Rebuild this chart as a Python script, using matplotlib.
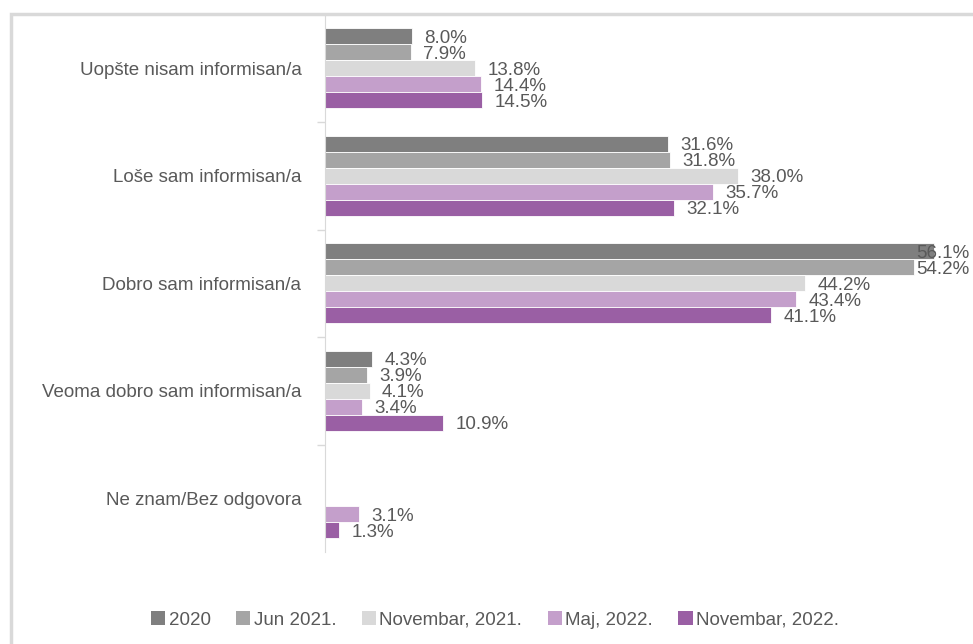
import matplotlib.pyplot as plt
from matplotlib.patches import Rectangle
import numpy as np

categories = ["Uopšte nisam informisan/a", "Loše sam informisan/a",
              "Dobro sam informisan/a", "Veoma dobro sam informisan/a",
              "Ne znam/Bez odgovora"]
series_names = ["2020", "Jun 2021.", "Novembar, 2021.", "Maj, 2022.", "Novembar, 2022."]
v2020 = [8.0, 31.6, 56.1, 4.3, None]
vjun21 = [7.9, 31.8, 54.2, 3.9, None]
vnov21 = [13.8, 38.0, 44.2, 4.1, None]
vmaj22 = [14.4, 35.7, 43.4, 3.4, 3.1]
vnov22 = [14.5, 32.1, 41.1, 10.9, 1.3]
colors = ["#7f7f7f", "#a5a5a5", "#d9d9d9", "#c49fcb", "#9a5fa4"]

plt.rcParams['font.family'] = ['Liberation Sans', 'DejaVu Sans']
W, H = 973, 644
fs = 13.5
fig = plt.figure(figsize=(W / 100, H / 100), dpi=100)

# outer chart frame
fig.patches.append(Rectangle((10.5 / W, -0.1), 1.2, 1 - 13.5 / H + 0.1,
                             transform=fig.transFigure, fill=False,
                             edgecolor="#d9d9d9", linewidth=2.5))

scale = 10.86
left, top, bottom = 325, 14.5, 552
ax = fig.add_axes([left / W, 1 - bottom / H, (W - left) / W, (bottom - top) / H])
ax.set_xlim(0, (W - left) / scale)
ax.set_ylim(4.5, -0.5)

# labels that would run past the frame get pulled back inside
xmax_label = (969 - left) / scale
label_w = 5.0

y = np.arange(len(categories))
h = 0.149
all_vals = [v2020, vjun21, vnov21, vmaj22, vnov22]
for i, (vals, name, c) in enumerate(zip(all_vals, series_names, colors)):
    pos = y + (i - 2) * h
    for p, v in zip(pos, vals):
        if v is None:
            continue
        ax.barh(p, v, height=h, color=c, edgecolor="white", linewidth=0.6)
        tx = v + 1.15
        if tx + label_w > xmax_label:
            ax.text(xmax_label, p + 0.02, f"{v:.1f}%", va="center", ha="right",
                    fontsize=fs, color="#595959")
        else:
            ax.text(tx, p + 0.02, f"{v:.1f}%", va="center", ha="left",
                    fontsize=fs, color="#595959")
    ax.barh(np.nan, 0, color=c, label=name)

for s in ["top", "right", "bottom"]:
    ax.spines[s].set_visible(False)
ax.spines["left"].set_color("#d9d9d9")
ax.set_xticks([])
ax.set_yticks(y)
ax.set_yticklabels(categories, fontsize=fs, color="#595959")
ax.tick_params(axis="y", which="major", length=0, pad=17)
ax.set_yticks(np.arange(0.5, 4.5, 1), minor=True)
ax.tick_params(axis="y", which="minor", length=6, color="#d9d9d9", width=1)

fig.legend(loc="center", bbox_to_anchor=(495 / W, 1 - 620 / H), ncol=5, frameon=False,
           fontsize=fs, labelcolor="#595959", handlelength=0.75, handleheight=0.7,
           handletextpad=0.2, columnspacing=1.35)

fig.savefig("out.png", dpi=100)
